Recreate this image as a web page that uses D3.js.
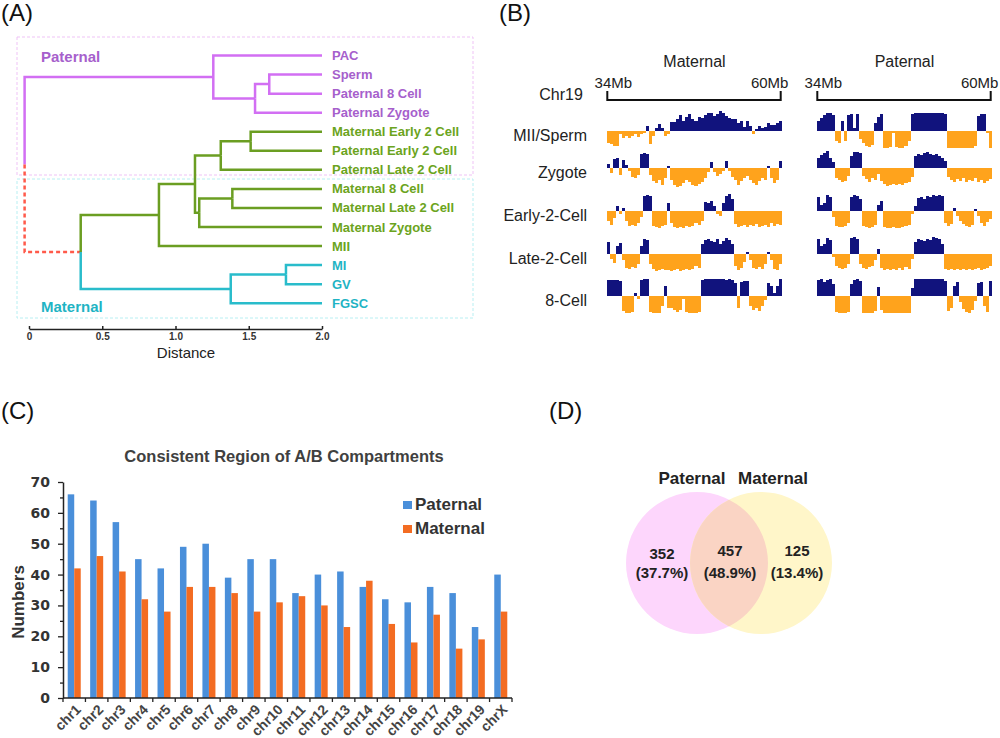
<!DOCTYPE html>
<html>
<head>
<meta charset="utf-8">
<script src="https://cdn.jsdelivr.net/npm/d3@7"></script>
<style>
  body { margin: 0; background: #fff; }
  svg { display: block; font-family: Arial, "Liberation Sans", sans-serif; }
</style>
</head>
<body>
<svg id="fig" width="1000" height="738"></svg>
<script>
// ---------- (A) dendrogram data ----------
const leafNames = ["PAC", "Sperm", "Paternal 8 Cell", "Paternal Zygote",
  "Maternal Early 2 Cell", "Paternal Early 2 Cell", "Paternal Late 2 Cell",
  "Maternal 8 Cell", "Maternal Late 2 Cell", "Maternal Zygote", "MII",
  "MI", "GV", "FGSC"];
const leafGroups = ["pat", "pat", "pat", "pat", "green", "green", "green",
  "green", "green", "green", "green", "cyan", "cyan", "cyan"];
// merge id, left child, right child, distance, branch group
const mergeIds    = ["n0", "n1", "n2", "n3", "n4", "n5", "n6", "n7", "n8", "n9", "n10", "n11", "n12"];
const mergeLeft   = ["Sperm", "n0", "PAC", "Maternal Early 2 Cell", "n3", "Maternal 8 Cell", "n5", "n4", "n7", "MI", "n9", "n8", "n2"];
const mergeRight  = ["Paternal 8 Cell", "Paternal Zygote", "n1", "Paternal Early 2 Cell", "Paternal Late 2 Cell", "Maternal Late 2 Cell", "Maternal Zygote", "n6", "MII", "GV", "FGSC", "n10", "n11"];
const mergeDist   = [1.64, 1.543, 1.258, 1.513, 1.309, 1.388, 1.162, 1.133, 0.887, 1.754, 1.377, 0.353, -0.03];
const mergeGroups = ["pat", "pat", "pat", "green", "green", "green", "green", "green", "green", "cyan", "cyan", "link", "pat"];
const distTicks = [0, 0.5, 1.0, 1.5, 2.0];

// ---------- (B) compartment tracks, chr19 34-60Mb (58 bins) ----------
const stages = ["MII/Sperm", "Zygote", "Early-2-Cell", "Late-2-Cell", "8-Cell"];
const matMII = [-12,-13,-15,-15,-3,-7,-5,-7,-5,-3,-6,-3,-2,5,-13,-5,3,7,3,-5,-3,9,9,12,16,10,14,17,12,10,14,13,16,18,18,15,17,20,18,15,13,12,12,8,10,4,10,5,-3,2,5,3,4,8,6,6,8,10];
const matZyg = [4,-5,9,10,-7,8,3,-3,-9,-10,-7,14,15,14,-7,-13,-15,-12,-17,-10,2,-12,-17,-19,-18,-15,-12,-14,-17,-18,-16,-14,-10,-4,6,-4,-8,-6,-3,7,-3,-9,-12,-17,-13,-10,-8,-12,-15,-17,-13,-10,-12,2,-10,-15,-12,7];
const matE2  = [-10,-14,-7,5,-3,3,-10,-15,-14,-15,-12,-6,15,16,15,-15,-16,-17,-15,-14,8,-12,-16,-17,-16,-17,-15,-16,-15,-12,-14,-10,9,8,10,5,-3,-5,8,15,17,12,-13,-16,-15,-14,-16,-14,-15,-13,-16,-15,-14,-16,-12,-15,-13,-14];
const matL2  = [12,-5,-9,8,11,-6,-14,-15,-13,-14,-10,8,15,14,-10,-15,-17,-16,-15,-16,-16,-17,-16,-15,-17,-16,-15,-16,-15,-12,-14,10,14,15,13,12,15,10,13,16,14,10,-12,-16,-14,-8,2,-6,-14,-15,-13,-15,-10,2,-6,-15,-16,-10];
const mat8   = [16,16,16,16,15,-15,-17,-17,-16,3,-3,16,17,17,-16,-17,-17,-17,-10,10,-12,-12,-14,-16,-14,-3,-16,-17,-17,-17,-16,16,17,17,17,17,17,17,17,16,17,16,13,-12,14,15,15,-10,-14,-12,-15,-10,-4,13,10,3,10,17];
const patMII = [10,13,16,18,18,16,-10,-12,10,-10,16,17,3,17,-8,-12,-15,-16,-14,8,14,17,-17,-17,-16,-2,-16,-17,-17,-15,-10,17,18,18,18,18,18,18,18,18,18,18,17,-17,-17,-17,-17,-17,-17,-17,-17,-17,-15,15,17,17,-2,-17];
const patZyg = [10,13,15,17,10,6,-10,-12,-14,-13,-8,12,16,16,15,-8,-11,-14,-10,-12,-6,-13,-16,-18,-17,-16,-17,-16,-17,-15,-14,-9,12,14,13,15,16,14,13,14,12,10,7,-9,-12,-14,-11,-13,-10,-14,-12,-13,-10,-14,-12,-15,-13,-11];
const patE2  = [14,6,8,16,14,-6,-15,-16,-16,-15,-12,14,16,15,12,-15,-16,-17,-16,-14,6,10,-16,-17,-17,-16,-17,-17,-16,-15,-14,-3,5,13,14,12,15,14,16,15,16,15,-12,-15,-13,3,-5,-10,-13,-15,-16,-14,2,-5,-12,-15,-11,-8];
const patL2  = [15,8,10,16,14,-3,-12,-14,-15,-14,-10,16,17,15,-10,-14,-15,-13,-12,-6,5,-14,-16,-15,-16,-15,-16,-14,-16,-13,-15,-5,12,15,14,13,15,14,17,16,15,10,-15,-16,-15,-16,-15,-16,-15,-16,-15,-16,-15,-14,-16,-15,-14,-12];
const pat8   = [16,17,14,16,17,12,-16,-17,-17,-17,-16,12,16,17,15,-17,-17,-17,-17,-15,9,-14,-17,-17,-17,-17,-17,-17,-17,-17,-17,8,17,17,17,17,17,17,17,17,17,17,15,-15,-12,10,14,-6,-13,-16,-17,-14,-5,13,14,-10,-16,15];
const maternalTracks = [matMII, matZyg, matE2, matL2, mat8];
const paternalTracks = [patMII, patZyg, patE2, patL2, pat8];

// ---------- (C) consistent regions per chromosome ----------
const chroms = ["chr1","chr2","chr3","chr4","chr5","chr6","chr7","chr8","chr9","chr10",
  "chr11","chr12","chr13","chr14","chr15","chr16","chr17","chr18","chr19","chrX"];
const paternalCounts = [66, 64, 57, 45, 42, 49, 50, 39, 45, 45, 34, 40, 41, 36, 32, 31, 36, 34, 23, 40];
const maternalCounts = [42, 46, 41, 32, 28, 36, 36, 34, 28, 31, 33, 30, 23, 38, 24, 18, 27, 16, 19, 28];
const seriesNames = ["Paternal", "Maternal"];

// ---------- (D) venn ----------
const vennSets = ["Paternal", "Maternal"];
const vennCounts = [352, 457, 125];
const vennPercents = ["37.7%", "48.9%", "13.4%"];

const svg = d3.select("#fig");

// panel letters
svg.selectAll("text.panel")
  .data([["(A)", 1, 21], ["(B)", 499, 21], ["(C)", 1, 419], ["(D)", 549, 419]])
  .enter().append("text")
  .attr("class", "panel")
  .attr("x", d => d[1]).attr("y", d => d[2])
  .style("font-size", "24px").attr("fill", "#111")
  .text(d => d[0]);

drawDendrogram();
drawTracks();
drawBars();
drawVenn();

function drawDendrogram() {
  const lineColor = {pat: "#d26ff3", green: "#6b9e22", cyan: "#29bccb", link: "#ff5a4a"};
  const labelColor = {pat: "#a660cc", green: "#6ba420", cyan: "#1fb4c4"};

  // build nested tree from merges
  const nodes = new Map();
  leafNames.forEach((n, i) => nodes.set(n, {name: n, dist: 2.0, group: leafGroups[i]}));
  mergeIds.forEach((id, i) => nodes.set(id, {
    name: id, dist: mergeDist[i], group: mergeGroups[i],
    children: [nodes.get(mergeLeft[i]), nodes.get(mergeRight[i])]
  }));

  const root = d3.hierarchy(nodes.get("n12"));
  d3.cluster().size([266.7, 1]).separation(() => 1)(root);

  const x = d3.scaleLinear().domain([0, 2]).range([29, 322]);
  const yOff = 46;

  // dashed group boxes
  svg.append("rect").attr("x", 17).attr("y", 37).attr("width", 456).attr("height", 138)
    .attr("fill", "none").attr("stroke", "#efc3f6").attr("stroke-dasharray", "3,2");
  svg.append("rect").attr("x", 17).attr("y", 179).attr("width", 456).attr("height", 139)
    .attr("fill", "none").attr("stroke", "#b8eff2").attr("stroke-dasharray", "3,2");

  // elbow links
  svg.append("g").selectAll("path")
    .data(root.descendants().filter(d => d.parent))
    .enter().append("path")
    .attr("fill", "none")
    .attr("stroke", d => lineColor[d.data.group])
    .attr("stroke-width", 2.5)
    .attr("stroke-dasharray", d => d.data.group === "link" ? "4,3" : null)
    .attr("d", d => `M${x(d.parent.data.dist)},${d.parent.x + yOff}V${d.x + yOff}H${x(d.data.dist)}`);

  // leaf labels
  svg.append("g").selectAll("text")
    .data(root.leaves())
    .enter().append("text")
    .attr("x", 332).attr("y", d => d.x + yOff).attr("dy", "0.35em")
    .attr("fill", d => labelColor[d.data.group])
    .style("font-size", "13px").style("font-weight", "bold")
    .text(d => d.data.name);

  // cluster names
  svg.append("text").attr("x", 41).attr("y", 62).attr("fill", "#a660cc")
    .style("font-size", "15px").style("font-weight", "bold").text("Paternal");
  svg.append("text").attr("x", 41).attr("y", 312).attr("fill", "#1fb4c4")
    .style("font-size", "15px").style("font-weight", "bold").text("Maternal");

  // distance axis
  const ax = svg.append("g")
    .attr("transform", "translate(0,329)")
    .call(d3.axisBottom(x).tickValues(distTicks).tickSize(-3).tickSizeOuter(0).tickPadding(4)
      .tickFormat(d => d === 0 ? "0" : d3.format(".1f")(d)));
  ax.select(".domain").attr("stroke", "#222").attr("stroke-width", 1.5);
  ax.selectAll(".tick line").attr("stroke", "#222").attr("stroke-width", 1.5);
  ax.selectAll("text").attr("fill", "#333").style("font-size", "10px").style("font-weight", "bold")
    .style("font-family", "Arial, 'Liberation Sans', sans-serif");

  svg.append("text").attr("x", 186).attr("y", 358).attr("text-anchor", "middle")
    .attr("fill", "#222").style("font-size", "15px").text("Distance");
}

function drawTracks() {
  const navy = "#11137d", orange = "#ffa31c";
  const baselines = [131, 168, 210.5, 254, 296];
  const sides = [
    {title: "Maternal", x0: 607.3, tracks: maternalTracks},
    {title: "Paternal", x0: 817.3, tracks: paternalTracks}
  ];
  const bins = d3.scaleBand().domain(d3.range(matMII.length)).range([0, 174.4]);
  const v = d3.scaleLinear().domain([-20, 20]).range([20, -20]);
  const w = bins.range()[1];

  // row labels
  svg.append("g").selectAll("text")
    .data(stages).enter().append("text")
    .attr("x", 587).attr("y", (d, i) => baselines[i] + 10)
    .attr("text-anchor", "end").attr("fill", "#222")
    .style("font-size", "16px").text(d => d);

  svg.append("text").attr("x", 561).attr("y", 100).attr("text-anchor", "middle")
    .attr("fill", "#222").style("font-size", "16px").text("Chr19");

  sides.forEach(side => {
    const g = svg.append("g").attr("transform", `translate(${side.x0},0)`);

    g.append("text").attr("x", w / 2).attr("y", 67).attr("text-anchor", "middle")
      .attr("fill", "#222").style("font-size", "16px").text(side.title);

    // 34-60Mb bracket
    g.append("path").attr("fill", "none").attr("stroke", "#111").attr("stroke-width", 2)
      .attr("d", `M0,91V100H${w - 1}V91`);
    g.append("text").attr("x", 6).attr("y", 88).attr("text-anchor", "middle")
      .attr("fill", "#222").style("font-size", "15px").text("34Mb");
    g.append("text").attr("x", w - 12).attr("y", 88).attr("text-anchor", "middle")
      .attr("fill", "#222").style("font-size", "15px").text("60Mb");

    side.tracks.forEach((track, r) => {
      g.append("g")
        .attr("transform", `translate(0,${baselines[r]})`)
        .selectAll("rect")
        .data(track).enter().append("rect")
        .attr("x", (d, i) => bins(i))
        .attr("width", bins.bandwidth())
        .attr("y", d => Math.min(v(d), v(0)))
        .attr("height", d => Math.abs(v(d) - v(0)))
        .attr("fill", d => d > 0 ? navy : orange)
        .attr("shape-rendering", "crispEdges");
    });
  });
}

function drawBars() {
  const blue = "#4a8fda", orange = "#f36c22";
  const data = chroms.map((c, i) => ({chrom: c, Paternal: paternalCounts[i], Maternal: maternalCounts[i]}));

  const x = d3.scaleBand().domain(chroms).range([63, 512]).paddingInner(0.42).paddingOuter(0.21);
  const sub = d3.scaleBand().domain(seriesNames).range([0, x.bandwidth()]);
  const y = d3.scaleLinear().domain([0, 70]).range([698, 482]);
  const color = d3.scaleOrdinal().domain(seriesNames).range([blue, orange]);

  svg.append("text").attr("x", 284).attr("y", 462).attr("text-anchor", "middle")
    .attr("fill", "#404040").style("font-size", "16.5px").style("font-weight", "bold")
    .text("Consistent Region of A/B Compartments");

  // bars
  svg.append("g").selectAll("g")
    .data(data).enter().append("g")
    .attr("transform", d => `translate(${x(d.chrom)},0)`)
    .selectAll("rect")
    .data(d => seriesNames.map(s => ({key: s, value: d[s]})))
    .enter().append("rect")
    .attr("x", d => sub(d.key))
    .attr("width", sub.bandwidth())
    .attr("y", d => y(d.value))
    .attr("height", d => y(0) - y(d.value))
    .attr("fill", d => color(d.key));

  // y axis, major + minor ticks
  const ya = svg.append("g").attr("transform", "translate(63,0)")
    .call(d3.axisLeft(y).tickValues(d3.range(0, 71, 10)).tickSize(5).tickSizeOuter(0).tickPadding(8));
  ya.select(".domain").attr("stroke", "#222").attr("stroke-width", 1.5);
  ya.selectAll(".tick line").attr("stroke", "#222").attr("stroke-width", 1.3);
  ya.selectAll("text").attr("fill", "#333").style("font-size", "14px").style("font-weight", "bold")
    .style("font-family", "'DejaVu Sans', sans-serif");
  const ym = svg.append("g").attr("transform", "translate(63,0)")
    .call(d3.axisLeft(y).tickValues(d3.range(5, 70, 10)).tickSize(3).tickFormat(""));
  ym.select(".domain").remove();
  ym.selectAll(".tick line").attr("stroke", "#222").attr("stroke-width", 1.3);

  // x axis with boundary ticks
  svg.append("line").attr("x1", 63).attr("x2", 512).attr("y1", y(0)).attr("y2", y(0))
    .attr("stroke", "#222").attr("stroke-width", 1.5);
  svg.append("g").selectAll("line")
    .data(d3.range(chroms.length + 1)).enter().append("line")
    .attr("x1", i => x.range()[0] + i * x.step()).attr("x2", i => x.range()[0] + i * x.step())
    .attr("y1", y(0)).attr("y2", y(0) + 4)
    .attr("stroke", "#222").attr("stroke-width", 1.3);
  svg.append("g").selectAll("text")
    .data(chroms).enter().append("text")
    .attr("transform", d => `translate(${x(d) + x.bandwidth() / 2 + 4},${y(0) + 9}) rotate(-45)`)
    .attr("text-anchor", "end").attr("dy", "0.35em")
    .attr("fill", "#444").style("font-size", "14px").style("font-weight", "bold")
    .text(d => d);

  svg.append("text").attr("transform", "translate(24,602) rotate(-90)")
    .attr("text-anchor", "middle").attr("fill", "#333")
    .style("font-size", "17px").style("font-weight", "bold").text("Numbers");

  // legend
  const lg = svg.append("g").selectAll("g")
    .data(seriesNames).enter().append("g")
    .attr("transform", (d, i) => `translate(403,${501 + i * 24})`);
  lg.append("rect").attr("width", 9).attr("height", 8).attr("fill", d => color(d));
  lg.append("text").attr("x", 12).attr("y", 9).attr("fill", "#333")
    .style("font-size", "17px").style("font-weight", "bold").text(d => d);
}

function drawVenn() {
  const r = 71, cy = 563;
  const cx = d3.scaleOrdinal().domain(vennSets).range([697, 761]);
  const fills = d3.scaleOrdinal().domain(vennSets).range(["#fdd6fc", "#fff6c9"]);

  svg.append("defs").append("clipPath").attr("id", "clipPat")
    .append("circle").attr("cx", cx("Paternal")).attr("cy", cy).attr("r", r);

  svg.append("g").selectAll("circle")
    .data(vennSets).enter().append("circle")
    .attr("cx", d => cx(d)).attr("cy", cy).attr("r", r)
    .attr("fill", d => fills(d));
  svg.append("circle").attr("cx", cx("Maternal")).attr("cy", cy).attr("r", r)
    .attr("clip-path", "url(#clipPat)").attr("fill", "#fad4c4");

  svg.append("g").selectAll("text")
    .data(vennSets).enter().append("text")
    .attr("x", (d, i) => [692, 773][i]).attr("y", 484).attr("text-anchor", "middle")
    .attr("fill", "#222").style("font-size", "17px").style("font-weight", "bold")
    .text(d => d);

  const regionX = [662, 730, 797];
  const lab = svg.append("g").selectAll("text")
    .data(vennCounts).enter().append("text")
    .attr("text-anchor", "middle").attr("fill", "#222")
    .style("font-size", "15px").style("font-weight", "bold");
  lab.append("tspan").attr("x", (d, i) => regionX[i]).attr("y", (d, i) => i === 0 ? 559 : 556)
    .text(d => d);
  lab.append("tspan").attr("x", (d, i) => regionX[i]).attr("y", 578)
    .text((d, i) => `(${vennPercents[i]})`);
}
</script>
</body>
</html>
